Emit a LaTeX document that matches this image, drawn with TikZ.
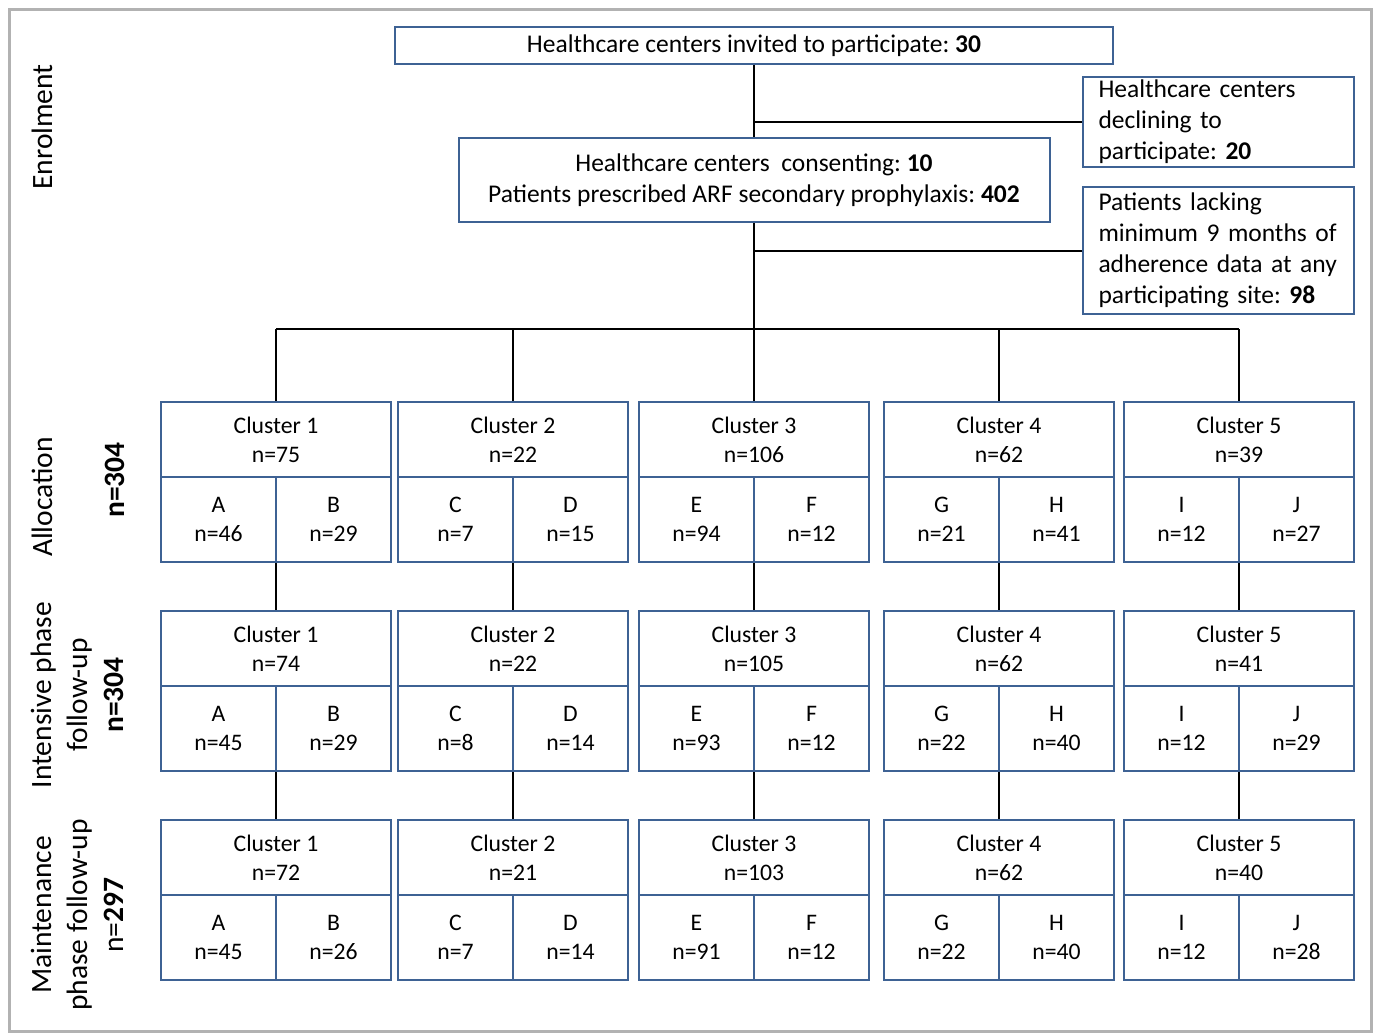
\documentclass[tikz,border=0pt]{standalone}
\usepackage{fontspec}
\setmainfont{Carlito}
\definecolor{boxblue}{RGB}{62,98,148}
\frenchspacing
\begin{document}
\begin{tikzpicture}
	[	x=1pt,y=-1pt,
	box/.style={rectangle,draw=boxblue,line width=2pt,fill=white,align=center,inner sep=0pt,font=\fontsize{25.5}{31}\selectfont},
	note/.style={box,align=left,text width=240pt,minimum width=271pt},
	clust/.style={box,minimum width=230pt,minimum height=75pt,font=\fontsize{23.7}{29}\selectfont},
	arm/.style={clust,minimum width=115pt,minimum height=85pt},
	phase/.style={rotate=90,align=center,inner sep=0pt,font=\fontsize{29.5}{36}\selectfont},
	link/.style={draw=black,line width=1.3pt}
	]
	\useasboundingbox (0,0) rectangle (1373,1034);
	\draw[gray!60,line width=3pt] (9,9) rectangle (1371,1031);
% enrolment
	\node[box,minimum width=718pt,minimum height=37pt] (inv) at (754,45.5){Healthcare centers invited to participate: \textbf{30}};
	\node[note,minimum height=90pt] (decl) at (1218.5,122){Healthcare centers\\declining to\\participate: \textbf{20}};
	\node[box,minimum width=591pt,minimum height=84pt] (cons) at (754,180){Healthcare centers\ \ consenting: \textbf{10}\\Patients prescribed ARF secondary prophylaxis: \textbf{402}};
	\node[note,minimum height=127pt] (lack) at (1218.5,250.5){Patients lacking\\minimum 9 months of\\adherence data at any\\participating site: \textbf{98}};
	\coordinate (bus) at (754,329);
% phases
\node[phase] (enrol) at (42,127){Enrolment};
\node[phase] (alloc) at (42,497){Allocation};
\node[phase] (allocn) at (115,480){\textbf{n=304}};
\node[phase] (inten) at (77,695){Intensive phase\\follow-up\\\textbf{n=304}};
\node[phase] (maint) at (77,915){Maintenance\\phase follow-up\\n=\textbf{297}};
% allocation
	\node[clust] (r1c1) at (276,439.5){Cluster 1\\n=75};
	\node[arm] (r1c1a) at (218.5,519.5){A\\n=46};
	\node[arm] (r1c1b) at (333.5,519.5){B\\n=29};
	\node[clust] (r1c2) at (513,439.5){Cluster 2\\n=22};
	\node[arm] (r1c2a) at (455.5,519.5){C\\n=7};
	\node[arm] (r1c2b) at (570.5,519.5){D\\n=15};
	\node[clust] (r1c3) at (754,439.5){Cluster 3\\n=106};
	\node[arm] (r1c3a) at (696.5,519.5){E\\n=94};
	\node[arm] (r1c3b) at (811.5,519.5){F\\n=12};
	\node[clust] (r1c4) at (999,439.5){Cluster 4\\n=62};
	\node[arm] (r1c4a) at (941.5,519.5){G\\n=21};
	\node[arm] (r1c4b) at (1056.5,519.5){H\\n=41};
	\node[clust] (r1c5) at (1239,439.5){Cluster 5\\n=39};
	\node[arm] (r1c5a) at (1181.5,519.5){I\\n=12};
	\node[arm] (r1c5b) at (1296.5,519.5){J\\n=27};
% intensive phase
	\node[clust] (r2c1) at (276,648.5){Cluster 1\\n=74};
	\node[arm] (r2c1a) at (218.5,728.5){A\\n=45};
	\node[arm] (r2c1b) at (333.5,728.5){B\\n=29};
	\node[clust] (r2c2) at (513,648.5){Cluster 2\\n=22};
	\node[arm] (r2c2a) at (455.5,728.5){C\\n=8};
	\node[arm] (r2c2b) at (570.5,728.5){D\\n=14};
	\node[clust] (r2c3) at (754,648.5){Cluster 3\\n=105};
	\node[arm] (r2c3a) at (696.5,728.5){E\\n=93};
	\node[arm] (r2c3b) at (811.5,728.5){F\\n=12};
	\node[clust] (r2c4) at (999,648.5){Cluster 4\\n=62};
	\node[arm] (r2c4a) at (941.5,728.5){G\\n=22};
	\node[arm] (r2c4b) at (1056.5,728.5){H\\n=40};
	\node[clust] (r2c5) at (1239,648.5){Cluster 5\\n=41};
	\node[arm] (r2c5a) at (1181.5,728.5){I\\n=12};
	\node[arm] (r2c5b) at (1296.5,728.5){J\\n=29};
% maintenance phase
	\node[clust] (r3c1) at (276,857.5){Cluster 1\\n=72};
	\node[arm] (r3c1a) at (218.5,937.5){A\\n=45};
	\node[arm] (r3c1b) at (333.5,937.5){B\\n=26};
	\node[clust] (r3c2) at (513,857.5){Cluster 2\\n=21};
	\node[arm] (r3c2a) at (455.5,937.5){C\\n=7};
	\node[arm] (r3c2b) at (570.5,937.5){D\\n=14};
	\node[clust] (r3c3) at (754,857.5){Cluster 3\\n=103};
	\node[arm] (r3c3a) at (696.5,937.5){E\\n=91};
	\node[arm] (r3c3b) at (811.5,937.5){F\\n=12};
	\node[clust] (r3c4) at (999,857.5){Cluster 4\\n=62};
	\node[arm] (r3c4a) at (941.5,937.5){G\\n=22};
	\node[arm] (r3c4b) at (1056.5,937.5){H\\n=40};
	\node[clust] (r3c5) at (1239,857.5){Cluster 5\\n=40};
	\node[arm] (r3c5a) at (1181.5,937.5){I\\n=12};
	\node[arm] (r3c5b) at (1296.5,937.5){J\\n=28};
% connectors
	\draw[link] (inv.south) -- (inv.south |- cons.north);
	\draw[link,line width=2pt] (inv.south |- decl.west) -- (decl.west);
	\draw[link] (cons.south) -- (bus);
	\draw[link,line width=2pt] (cons.south |- lack.west) -- (lack.west);
	\draw[link] (r1c1.north |- bus) -- (r1c5.north |- bus);
	\draw[link] (r1c1.north |- bus) -- (r1c1.north);
	\draw[link] (r1c2.north |- bus) -- (r1c2.north);
	\draw[link] (r1c3.north |- bus) -- (r1c3.north);
	\draw[link] (r1c4.north |- bus) -- (r1c4.north);
	\draw[link] (r1c5.north |- bus) -- (r1c5.north);
	\draw[link] (r2c1.north |- r1c1a.south) -- (r2c1.north);
	\draw[link] (r2c2.north |- r1c2a.south) -- (r2c2.north);
	\draw[link] (r2c3.north |- r1c3a.south) -- (r2c3.north);
	\draw[link] (r2c4.north |- r1c4a.south) -- (r2c4.north);
	\draw[link] (r2c5.north |- r1c5a.south) -- (r2c5.north);
	\draw[link] (r3c1.north |- r2c1a.south) -- (r3c1.north);
	\draw[link] (r3c2.north |- r2c2a.south) -- (r3c2.north);
	\draw[link] (r3c3.north |- r2c3a.south) -- (r3c3.north);
	\draw[link] (r3c4.north |- r2c4a.south) -- (r3c4.north);
	\draw[link] (r3c5.north |- r2c5a.south) -- (r3c5.north);
\end{tikzpicture}
\end{document}
